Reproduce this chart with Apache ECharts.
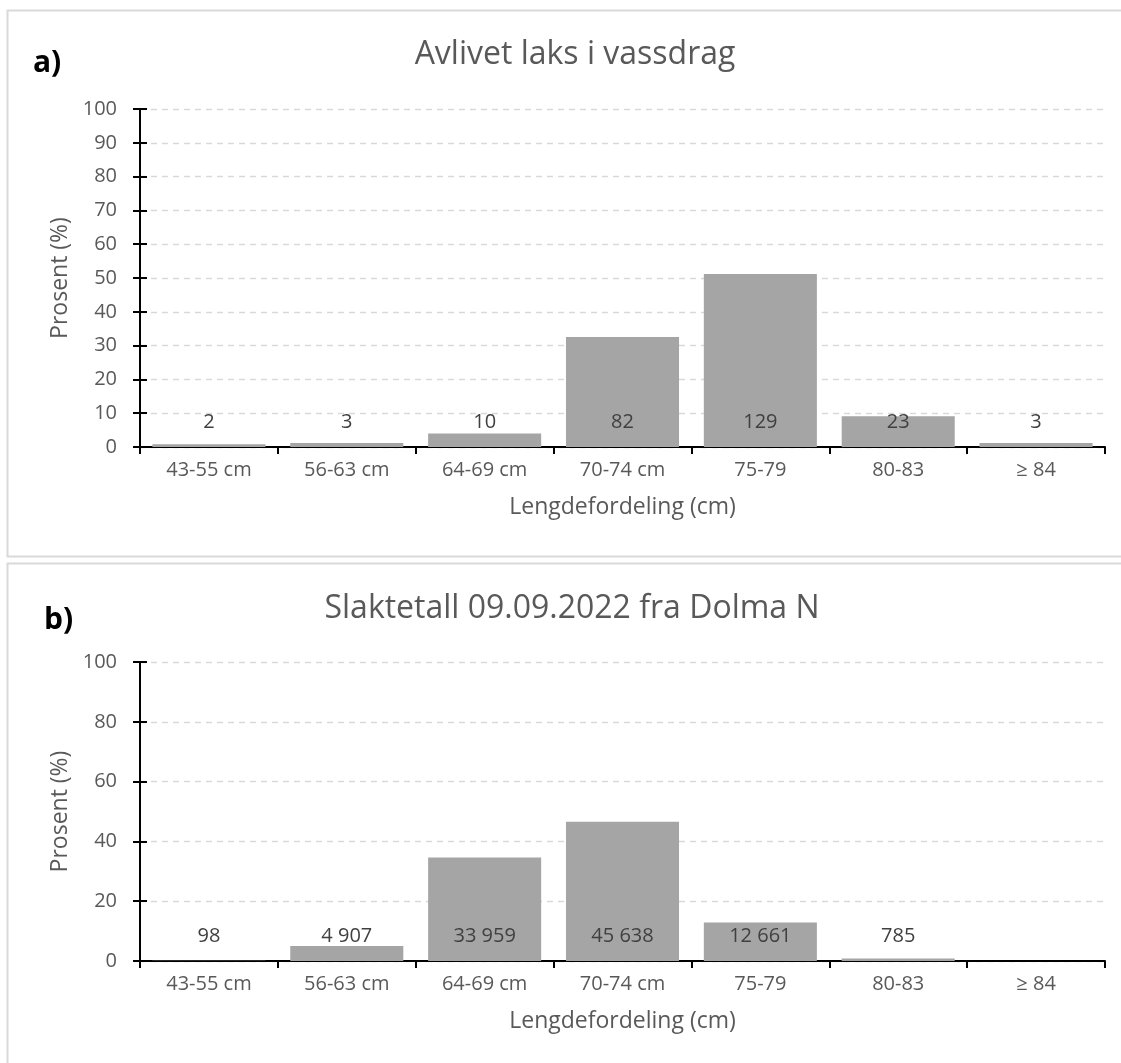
<!DOCTYPE html>
<html>
<head>
<meta charset="utf-8">
<script src="https://cdn.jsdelivr.net/npm/echarts@6/dist/echarts.min.js"></script>
<style>
  html, body { margin: 0; padding: 0; background: #fff; }
  #chart { width: 1121px; height: 1063px; }
</style>
</head>
<body>
<div id="chart"></div>
<script>
// Length classes shared by both panels
const lengthClasses = ['43-55 cm', '56-63 cm', '64-69 cm', '70-74 cm', '75-79', '80-83', '\u2265 84'];

// a) Salmon killed in rivers: number of fish per length class
const riverCounts = [2, 3, 10, 82, 129, 23, 3];

// b) Slaughter figures 09.09.2022 from Dolma N: number of fish per length class
const slaughterCounts = [98, 4907, 33959, 45638, 12661, 785, null];

const titleA = 'Avlivet laks i vassdrag';
const titleB = 'Slaktetall 09.09.2022 fra Dolma N';
const xName = 'Lengdefordeling (cm)';
const yName = 'Prosent (%)';

const FONT = '"Open Sans", "Noto Sans", sans-serif';
const TEXT = '#595959';

// Bars show each class's share (%) of the panel's total; labels show the count
function toShares(counts) {
  const total = counts.reduce((s, v) => s + (v || 0), 0);
  return counts.map(v => v == null ? null : { value: v / total * 100, count: v });
}
function fmtCount(n) {
  return String(n).replace(/\B(?=(\d{3})+(?!\d))/g, '\u00a0');
}

function xAxis(gridIndex) {
  return {
    type: 'category', gridIndex, data: lengthClasses,
    axisLine: { lineStyle: { color: '#000', width: 2 } },
    axisTick: { show: true, length: 7, lineStyle: { color: '#000', width: 2 } },
    axisLabel: { color: TEXT, fontSize: 20, fontFamily: FONT, margin: 13 },
    name: xName, nameLocation: 'middle', nameGap: 49,
    nameTextStyle: { color: TEXT, fontSize: 23, fontFamily: FONT }
  };
}
function yAxis(gridIndex, interval) {
  return {
    type: 'value', gridIndex, min: 0, max: 100, interval,
    axisLine: { show: true, lineStyle: { color: '#000', width: 2 } },
    axisTick: { show: true, length: 7, lineStyle: { color: '#000', width: 2 } },
    axisLabel: { color: TEXT, fontSize: 20, fontFamily: FONT, margin: 23 },
    splitLine: { show: true, lineStyle: { color: '#d9d9d9', width: 1.3, type: [6, 5] } },
    name: yName, nameLocation: 'middle', nameGap: 68, nameRotate: 90,
    nameTextStyle: { color: TEXT, fontSize: 23, fontFamily: FONT }
  };
}
// twin axis that draws the inner half of the cross tick marks
function yTicksInside(gridIndex, interval) {
  return {
    type: 'value', gridIndex, min: 0, max: 100, interval, position: 'left',
    axisLine: { show: false },
    axisTick: { show: true, inside: true, length: 7, lineStyle: { color: '#000', width: 2 } },
    axisLabel: { show: false }, splitLine: { show: false }
  };
}
function barSeries(idx, counts) {
  return {
    type: 'bar', xAxisIndex: idx, yAxisIndex: idx * 2,
    data: toShares(counts),
    barCategoryGap: '18%',
    itemStyle: { color: '#a5a5a5' },
    silent: true,
    label: {
      show: true, position: 'insideBottom', distance: 15,
      color: '#404040', fontSize: 20, fontFamily: FONT,
      formatter: p => p.data && p.data.count != null ? fmtCount(p.data.count) : ''
    }
  };
}

const chart = echarts.init(document.getElementById('chart'), null, { renderer: 'canvas' });
chart.setOption({
  animation: false,
  backgroundColor: '#fff',
  graphic: [
    { type: 'rect', shape: { x: 7.5, y: 10.5, width: 1130, height: 546 }, style: { fill: 'none', stroke: '#d9d9d9', lineWidth: 2 }, z: -1 },
    { type: 'rect', shape: { x: 7.5, y: 563.5, width: 1130, height: 520 }, style: { fill: 'none', stroke: '#d9d9d9', lineWidth: 2 }, z: -1 }
  ],
  title: [
    { text: 'a)', left: 28, top: 43, textStyle: { fontSize: 30, fontWeight: 'bold', color: '#000', fontFamily: FONT } },
    { text: titleA, left: 570, textAlign: 'center', top: 34, textStyle: { fontSize: 32, fontWeight: 'normal', color: TEXT, fontFamily: FONT } },
    { text: 'b)', left: 39, top: 600, textStyle: { fontSize: 30, fontWeight: 'bold', color: '#000', fontFamily: FONT } },
    { text: titleB, left: 567, textAlign: 'center', top: 588, textStyle: { fontSize: 32, fontWeight: 'normal', color: TEXT, fontFamily: FONT } }
  ],
  grid: [
    { left: 140, right: 16, top: 109, bottom: 616, containLabel: false },
    { left: 140, right: 16, top: 662, bottom: 102, containLabel: false }
  ],
  xAxis: [xAxis(0), xAxis(1)],
  yAxis: [yAxis(0, 10), yTicksInside(0, 10), yAxis(1, 20), yTicksInside(1, 20)],
  series: [barSeries(0, riverCounts), barSeries(1, slaughterCounts)]
});
</script>
</body>
</html>
